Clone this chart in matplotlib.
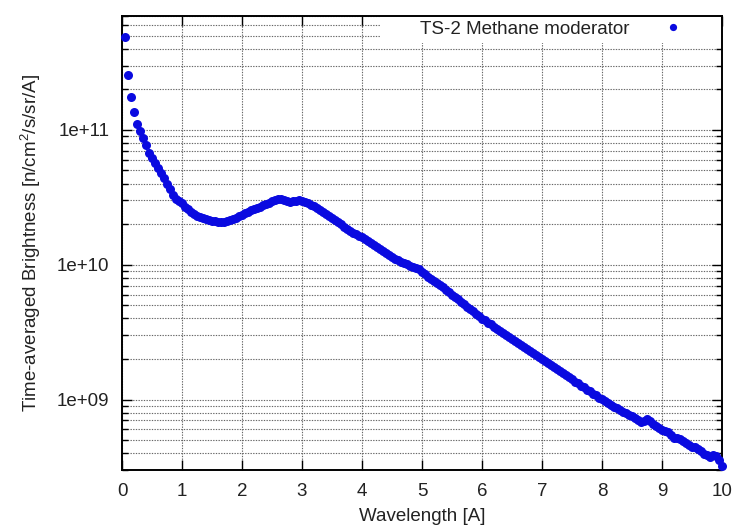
"""TS-2 methane moderator brightness vs wavelength (gnuplot-style log plot)."""

import matplotlib

matplotlib.use("Agg")
import matplotlib.pyplot as plt
import numpy as np
from matplotlib.patches import Rectangle
from matplotlib.ticker import FixedLocator, FuncFormatter, LogLocator, NullLocator

plt.rcParams["font.family"] = ["Liberation Sans", "DejaVu Sans"]
plt.rcParams["mathtext.fontset"] = "custom"
plt.rcParams["mathtext.rm"] = "Liberation Sans"

# wavelength [A], 0.05 A steps
wavelength = np.round(np.arange(1, 201) * 0.05, 2)

# log10 of brightness [n/cm^2/s/sr/A]
log_brightness = [
    11.690, 11.410, 11.245, 11.136, 11.047, 10.993, 10.943, 10.888, 10.831, 10.790,
    10.757, 10.720, 10.683, 10.645, 10.600, 10.560, 10.520, 10.490, 10.470, 10.455,
    10.430, 10.410, 10.390, 10.375, 10.362, 10.352, 10.345, 10.338, 10.332, 10.327,
    10.323, 10.320, 10.319, 10.320, 10.324, 10.330, 10.339, 10.349, 10.360, 10.371,
    10.382, 10.393, 10.403, 10.413, 10.422, 10.431, 10.440, 10.450, 10.460, 10.470,
    10.479, 10.484, 10.485, 10.481, 10.474, 10.468, 10.470, 10.475, 10.478, 10.476,
    10.468, 10.457, 10.444, 10.432, 10.420, 10.407, 10.393, 10.379, 10.364, 10.350,
    10.333, 10.317, 10.300, 10.283, 10.266, 10.250, 10.238, 10.226, 10.214, 10.202,
    10.190, 10.177, 10.162, 10.147, 10.131, 10.116, 10.100, 10.086, 10.072, 10.058,
    10.046, 10.034, 10.022, 10.012, 10.002, 9.993, 9.985, 9.977, 9.965, 9.948,
    9.930, 9.912, 9.897, 9.882, 9.865, 9.848, 9.831, 9.813, 9.796, 9.778,
    9.761, 9.743, 9.726, 9.708, 9.690, 9.672, 9.655, 9.637, 9.619, 9.601,
    9.587, 9.570, 9.557, 9.540, 9.526, 9.509, 9.497, 9.479, 9.466, 9.450,
    9.434, 9.421, 9.404, 9.392, 9.374, 9.362, 9.344, 9.332, 9.316, 9.301,
    9.288, 9.270, 9.258, 9.240, 9.229, 9.209, 9.198, 9.180, 9.166, 9.152,
    9.133, 9.122, 9.103, 9.094, 9.072, 9.063, 9.042, 9.033, 9.012, 9.002,
    8.988, 8.972, 8.962, 8.946, 8.935, 8.924, 8.910, 8.902, 8.885, 8.877,
    8.860, 8.850, 8.832, 8.842, 8.852, 8.838, 8.815, 8.800, 8.785, 8.777,
    8.770, 8.762, 8.735, 8.712, 8.712, 8.708, 8.694, 8.680, 8.665, 8.650,
    8.646, 8.632, 8.615, 8.598, 8.585, 8.575, 8.592, 8.580, 8.555, 8.510,
]
brightness = 10.0 ** np.array(log_brightness)

Y_MAJOR = [1e9, 1e10, 1e11]
LABEL = "TS-2 Methane moderator"
FS = 13.5

fig = plt.figure(figsize=(7.37, 5.29), dpi=100)
ax = fig.add_axes([122 / 737, 1 - 470 / 529, 600 / 737, 454 / 529])

ax.set_yscale("log")
ax.set_xlim(0, 10)
ax.set_ylim(3e8, 7e11)

ax.xaxis.set_major_locator(FixedLocator(np.arange(0, 11)))
ax.xaxis.set_minor_locator(NullLocator())
ax.yaxis.set_major_locator(FixedLocator(Y_MAJOR))
ax.yaxis.set_minor_locator(LogLocator(base=10, subs=np.arange(2, 10), numticks=20))
ax.yaxis.set_major_formatter(FuncFormatter(lambda v, _: f"1e+{int(round(np.log10(v))):02d}"))
ax.yaxis.set_minor_formatter(FuncFormatter(lambda v, _: ""))

ax.set_axisbelow(True)
grid_style = dict(color="#666666", linestyle=(0, (1.2, 1.2)), linewidth=0.8)
ax.grid(True, which="major", axis="x", **grid_style)
ax.grid(True, which="both", axis="y", **grid_style)

ax.tick_params(which="both", direction="in", top=True, right=True, labelsize=FS,
               colors="black", labelcolor="#222222")
ax.tick_params(which="major", length=7, width=1.0)
ax.tick_params(which="minor", length=4, width=1.0)
ax.tick_params(axis="x", pad=9)
ax.tick_params(axis="y", pad=9)
for s in ax.spines.values():
    s.set_linewidth(1.4)

# key box (white, hides the grid behind the legend)
ax.add_patch(Rectangle((0.43, 0.9405), 0.57, 0.0595, transform=ax.transAxes,
                       facecolor="white", edgecolor="none", zorder=1))

ax.plot(wavelength, brightness, "o", color="#0a0ae0", ms=6.5, mec="none",
        label=LABEL, zorder=3, clip_on=False)

ax.legend(loc="upper right", bbox_to_anchor=(1.0 - 24 / 600, 1.0), frameon=False,
          markerfirst=False, fontsize=FS, handlelength=2.2, handletextpad=1.2,
          borderpad=0.25, borderaxespad=0.0, labelcolor="#222222",
          bbox_transform=ax.transAxes, markerscale=0.8)

ax.set_xlabel("Wavelength [A]", fontsize=FS, color="#222222", labelpad=6)
ax.set_ylabel("Time-averaged Brightness [n/cm$^2$/s/sr/A]", fontsize=FS,
              color="#222222", labelpad=10)

fig.savefig("out.png", dpi=100)
